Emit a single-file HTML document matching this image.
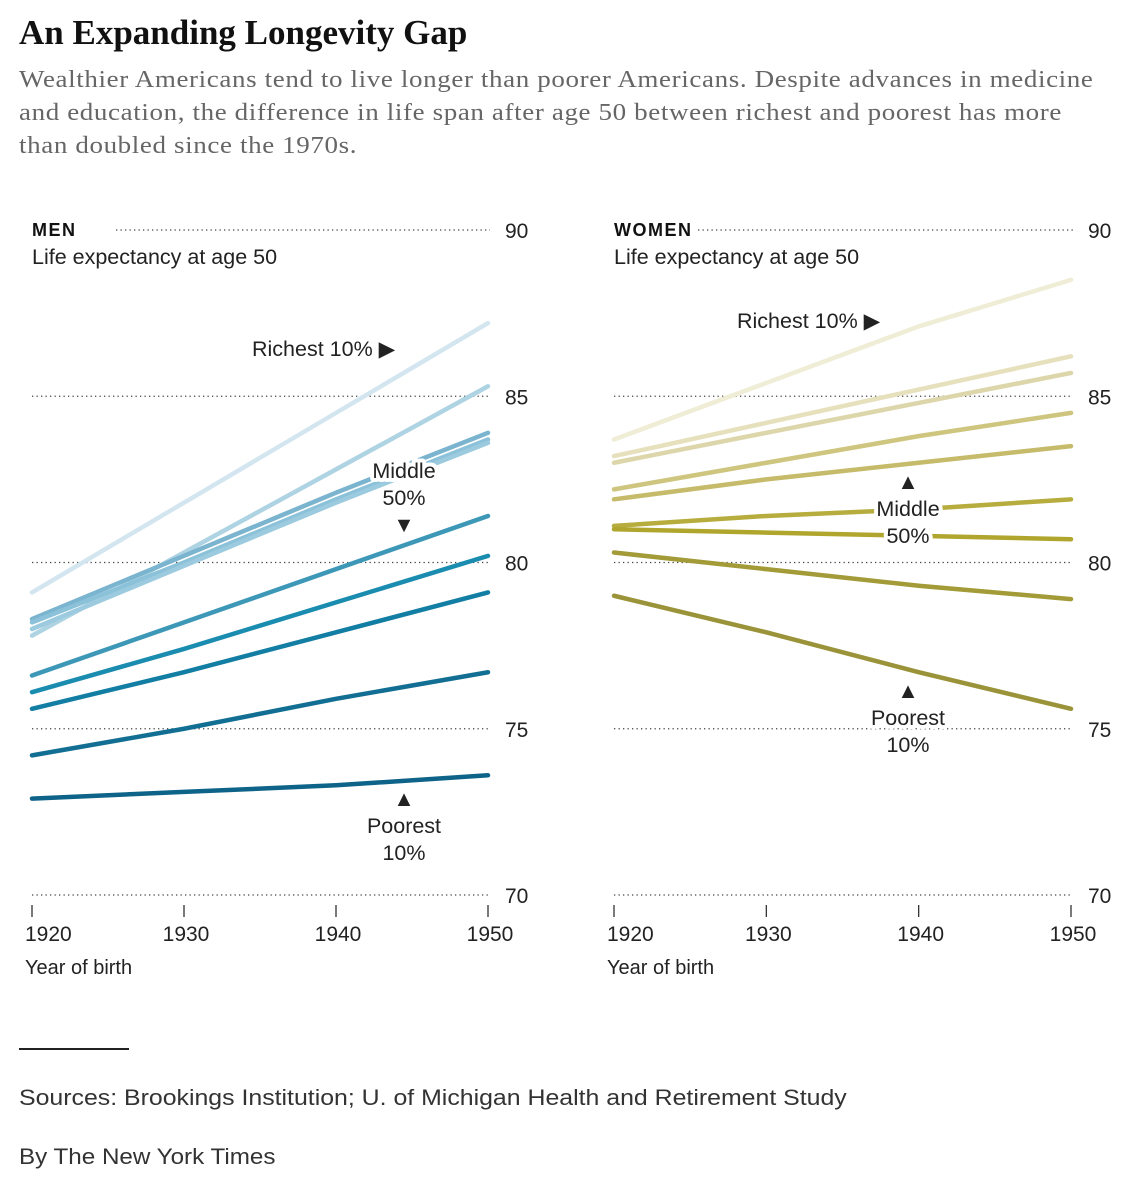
<!DOCTYPE html>
<html><head><meta charset="utf-8">
<style>
body{margin:0;background:#fff;width:1145px;height:1200px;overflow:hidden;font-family:"Liberation Sans",sans-serif;}
#title{position:absolute;left:19px;top:13px;font-family:"Liberation Serif",serif;font-weight:bold;font-size:35px;color:#111;margin:0;letter-spacing:0px;}
#sub{position:absolute;left:19px;top:64px;font-family:"Liberation Serif",serif;font-size:24px;letter-spacing:0.55px;line-height:33px;color:#666;margin:0;white-space:nowrap;transform:scaleX(1.125);transform-origin:left top;}
svg{position:absolute;left:0;top:0;}
#rule{position:absolute;left:19px;top:1048px;width:110px;border-top:2px solid #222;}
#src{position:absolute;left:19px;top:1085px;font-size:22px;color:#333;transform:scaleX(1.13);transform-origin:left;white-space:nowrap;}
#by{position:absolute;left:19px;top:1144px;font-size:22px;color:#333;transform:scaleX(1.1);transform-origin:left;white-space:nowrap;}
</style></head>
<body>
<h1 id="title">An Expanding Longevity Gap</h1>
<p id="sub">Wealthier Americans tend to live longer than poorer Americans. Despite advances in medicine<br>and education, the difference in life span after age 50 between richest and poorest has more<br>than doubled since the 1970s.</p>
<svg id="chart" width="1145" height="1200"></svg>
<div id="rule"></div>
<div id="src">Sources: Brookings Institution; U. of Michigan Health and Retirement Study</div>
<div id="by">By The New York Times</div>
<script>
const years=[1920,1930,1940,1950];
const yTicks=[70,75,80,85,90];
const menValues=[
[79.1,81.8,84.5,87.2],
[77.8,80.3,82.8,85.3],
[78.3,80.2,82.1,83.9],
[78.2,80.0,81.9,83.7],
[78.0,79.9,81.8,83.6],
[76.6,78.2,79.8,81.4],
[76.1,77.4,78.8,80.2],
[75.6,76.7,77.9,79.1],
[74.2,75.0,75.9,76.7],
[72.9,73.1,73.3,73.6]];
const menColors=["#d3e6f0","#aed3e3","#7ab4cf","#8cc2d9","#9ccbdf","#3d98b8","#1a8cb0","#137ea3","#126f93","#0e6388"];
const womenValues=[
[83.7,85.4,87.1,88.5],
[83.2,84.2,85.2,86.2],
[83.0,83.9,84.8,85.7],
[82.2,83.0,83.8,84.5],
[81.9,82.5,83.0,83.5],
[81.1,81.4,81.6,81.9],
[81.0,80.9,80.8,80.7],
[80.3,79.8,79.3,78.9],
[79.0,77.9,76.7,75.6]];
const womenColors=["#f0edd6","#e6e0bd","#ddd6ab","#cec57f","#c5bb6a","#b7ad3e","#b0a62e","#a29b38","#9a9339"];

const NS="http://www.w3.org/2000/svg";
const svg=document.getElementById('chart');
function mk(tag,attrs,parent){const e=document.createElementNS(NS,tag);for(const k in attrs)e.setAttribute(k,attrs[k]);(parent||svg).appendChild(e);return e;}

function panel(x0,x1,label,values,colors,name,annots){
  const g=mk('g',{});
  
  
  const xs=y=>x0+(y-1920)/30*(x1-x0);
  const ys=v=>230+(90-v)*33.25;
  yTicks.forEach(t=>{
    const gl=mk('line',{x1:t===90?x0+84:x0,x2:x1+2,y1:ys(t),y2:ys(t),stroke:'#444','stroke-width':1.3,'stroke-dasharray':'1.3 3.2'},g);
    
    
    const tl=mk('text',{x:x1+17,y:ys(t)+8,'font-size':21,fill:'#222'},g);
    tl.textContent=t;
    
    
  });
  years.forEach((y,i)=>{
    const tk=mk('line',{x1:xs(y),x2:xs(y),y1:905,y2:917,stroke:'#333','stroke-width':1.3},g);
    
    
    const t=mk('text',{x:i===0?xs(y)-7:xs(y)+2,y:941,'font-size':21,fill:'#222','text-anchor':i===0?'start':'middle'},g);
    t.textContent=y;
    
    
  });
  const h=mk('text',{x:x0,y:236,'font-size':18,'font-weight':'bold','letter-spacing':1.5,fill:'#111'},g);
  h.textContent=label;
  
  
  const s=mk('text',{x:x0,y:264,'font-size':21.5,fill:'#222'},g);
  s.textContent='Life expectancy at age 50';
  
  
  const xt=mk('text',{x:x0-7,y:974,'font-size':20,fill:'#222'},g);
  xt.textContent='Year of birth';
  
  
  values.forEach((vals,i)=>{
    const p=mk('polyline',{points:vals.map((v,j)=>xs(years[j])+','+ys(v)).join(' '),fill:'none',stroke:colors[i],'stroke-width':4.5,'stroke-linecap':'round','stroke-linejoin':'round'},g);
    
    
  });
  annots.forEach(a=>{
    const t=mk('text',{x:a.x,y:a.y,'font-size':21.5,fill:'#222','text-anchor':a.anchor||'middle',stroke:'#fff','stroke-width':8,'paint-order':'stroke','stroke-linejoin':'round'},g);
    a.lines.forEach((l,k)=>{const ts=mk('tspan',{x:a.x,dy:k?27:0},t);ts.textContent=l;});
    
    
  });
}
panel(32,488,'MEN',menValues,menColors,'men',[
 {x:252,y:356,anchor:'start',lines:['Richest 10% \u25B6'],name:'richest-label'},
 {x:404,y:478,lines:['Middle','50%','\u25BC'],name:'middle-label'},
 {x:404,y:806,lines:['\u25B2','Poorest','10%'],name:'poorest-label'}]);
panel(614,1071,'WOMEN',womenValues,womenColors,'women',[
 {x:737,y:328,anchor:'start',lines:['Richest 10% \u25B6'],name:'richest-label'},
 {x:908,y:489,lines:['\u25B2','Middle','50%'],name:'middle-label'},
 {x:908,y:698,lines:['\u25B2','Poorest','10%'],name:'poorest-label'}]);
</script>
</body></html>
